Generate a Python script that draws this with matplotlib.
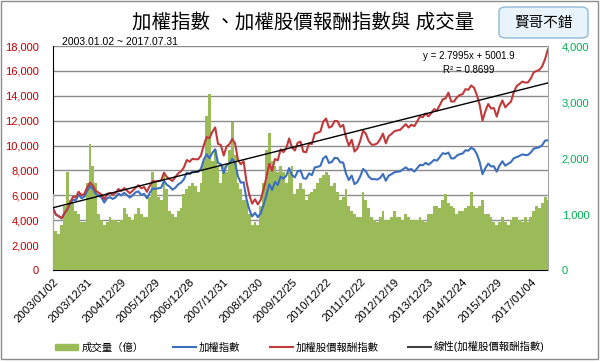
import numpy as np
import matplotlib
matplotlib.use('Agg')
import matplotlib.pyplot as plt
from matplotlib.patches import FancyBboxPatch, Patch, Rectangle
from matplotlib.lines import Line2D

plt.rcParams['font.family'] = ['Liberation Sans', 'Noto Sans CJK TC', 'DejaVu Sans']

# month-end readings, 2003/01 .. 2017/07
taiex = [
    4950, 4450, 4320, 4150, 4550, 4870, 5320, 5650, 5610, 6050, 5770, 5890,
    6380, 6750, 6520, 6120, 5980, 5840, 5420, 5770, 5850, 5710, 5840, 6140,
    5990, 6210, 6010, 5820, 6010, 6240, 6310, 6030, 6120, 5760, 6200, 6550,
    6530, 6560, 6610, 7170, 6850, 6700, 6450, 6610, 6880, 7020, 7290, 7820,
    7700, 7900, 7880, 7880, 8140, 8880, 9290, 8980, 9410, 9710, 8590, 8510,
    7800, 8410, 8570, 8920, 8620, 7520, 7020, 7050, 5720, 4870, 4300, 4590,
    4250, 4560, 5210, 5990, 6890, 6430, 7080, 6830, 7510, 7340, 7580, 8190,
    7640, 7440, 7920, 8000, 7370, 7330, 7760, 7620, 8240, 8290, 8370, 8970,
    9150, 8600, 8680, 9010, 8990, 8650, 8640, 7740, 7230, 7590, 6900, 7070,
    7520, 8120, 7930, 7500, 7300, 7300, 7270, 7400, 7720, 7170, 7580, 7700,
    7850, 7900, 7920, 8090, 8250, 8060, 8110, 7910, 8170, 8450, 8410, 8610,
    8460, 8640, 8850, 8790, 9080, 9390, 9320, 9440, 8970, 8970, 9190, 9310,
    9360, 9620, 9590, 9820, 9700, 9320, 8670, 7700, 8180, 8550, 8320, 8340,
    7900, 8410, 8740, 8380, 8540, 8670, 8980, 9070, 9170, 9290, 9240, 9250,
    9450, 9750, 9810, 9870, 10040, 10400, 10430,
]
total_return = [
    4950, 4450, 4320, 4150, 4550, 4870, 5430, 5880, 5830, 6290, 6000, 6130,
    6640, 7020, 6780, 6360, 6220, 6070, 5690, 6110, 6200, 6050, 6190, 6510,
    6350, 6580, 6370, 6170, 6370, 6610, 6810, 6570, 6670, 6280, 6760, 7140,
    7120, 7150, 7200, 7820, 7470, 7300, 7160, 7470, 7770, 7930, 8240, 8840,
    8700, 8930, 8900, 8900, 9200, 10030, 10680, 10600, 11100, 11460, 10140, 10040,
    9200, 9920, 10110, 10530, 10170, 8870, 8490, 8740, 7090, 6040, 5330, 5690,
    5270, 5650, 6460, 7430, 8540, 7970, 8920, 8810, 9690, 9470, 9780, 10570,
    9860, 9600, 10220, 10320, 9510, 9460, 10170, 10130, 10960, 11030, 11130, 11930,
    12170, 11440, 11540, 11980, 11960, 11500, 11660, 10680, 9980, 10470, 9520, 9760,
    10380, 11210, 10940, 10350, 10070, 10070, 10180, 10510, 10960, 10180, 10760, 10930,
    11150, 11220, 11250, 11490, 11720, 11450, 11680, 11550, 11930, 12340, 12280, 12570,
    12350, 12610, 12920, 12830, 13260, 13710, 13790, 14250, 13540, 13540, 13880, 14060,
    14130, 14530, 14480, 14830, 14650, 14070, 13270, 12010, 12760, 13340, 12980, 13010,
    12320, 13120, 13630, 13070, 13320, 13530, 14280, 14780, 14950, 15140, 15060, 15080,
    15400, 15890, 15990, 16090, 16370, 16950, 17730,
]
volume = [
    1350, 700, 650, 800, 1150, 1750, 1250, 1200, 1050, 1000, 850, 850,
    1550, 2250, 1850, 1550, 1000, 900, 800, 850, 950, 900, 900, 850,
    900, 1100, 1000, 950, 900, 1000, 1100, 1000, 950, 950, 1300, 1750,
    1550, 1300, 1250, 1750, 1450, 1050, 1000, 950, 1050, 1100, 1350, 1450,
    1500, 1550, 1500, 1400, 1550, 1950, 2750, 3150, 1950, 2150, 1850, 1550,
    1850, 1750, 2150, 2650, 2050, 1550, 1450, 1250, 1250, 1000, 800, 850,
    800, 1150, 1550, 2150, 2450, 1950, 1850, 1750, 1850, 1750, 1550, 1750,
    1850, 1350, 1450, 1550, 1450, 1250, 1350, 1400, 1450, 1550, 1650, 1700,
    1750, 1700, 1500, 1550, 1400, 1250, 1300, 1450, 1150, 1050, 1000, 950,
    950, 1400, 1250, 1100, 950, 900, 850, 950, 1050, 900, 900, 950,
    1050, 950, 950, 900, 1000, 950, 900, 900, 900, 950, 900, 850,
    1000, 1000, 1150, 1150, 1100, 1250, 1350, 1200, 1150, 1100, 1000, 1050,
    1050, 1100, 1150, 1400, 1150, 1100, 1150, 1250, 1000, 1000, 950, 850,
    800, 850, 950, 850, 800, 900, 950, 950, 900, 850, 950, 850,
    950, 1050, 1150, 1100, 1200, 1300, 1250,
]
tick_labels = ['2003/01/02', '2003/12/31', '2004/12/29', '2005/12/29', '2006/12/28',
               '2007/12/31', '2008/12/30', '2009/12/25', '2010/12/22', '2011/12/22',
               '2012/12/19', '2013/12/23', '2014/12/24', '2015/12/29', '2017/01/04']
n_days = 3583          # trading days in the series
trend_slope, trend_icpt = 2.7995, 5001.9

x = np.linspace(0, n_days - 1, len(taiex))
tick_pos = np.arange(len(tick_labels)) * 247

fig = plt.figure(figsize=(6, 3.62), dpi=100)
rect = [53 / 600, 1 - 270 / 362, 495 / 600, 224 / 362]

ax = fig.add_axes(rect)
ax.set_ylim(0, 18000)
ax.set_xlim(-0.5, n_days - 0.5)
ax.set_yticks(np.arange(0, 18001, 2000))
ax.yaxis.set_major_formatter(matplotlib.ticker.StrMethodFormatter('{x:,.0f}'))
ax.tick_params(axis='y', length=0, labelsize=8, labelcolor='#c00000', pad=10)
ax.grid(axis='y', color='#8c8c8c', lw=1)
ax.set_axisbelow(True)
ax.set_xticks(tick_pos)
ax.set_xticklabels(tick_labels, rotation=45, ha='right', va='top',
                   rotation_mode='anchor', fontsize=8.2)
ax.tick_params(axis='x', length=0, pad=5)
for s in ['top', 'right']:
    ax.spines[s].set_visible(False)
ax.spines['left'].set_color('black')
ax.spines['bottom'].set_color('black')

axv = ax.twinx()
axv.set_ylim(0, 4000)
axv.set_yticks(np.arange(0, 4001, 1000))
axv.yaxis.set_major_formatter(matplotlib.ticker.StrMethodFormatter('{x:,.0f}'))
axv.tick_params(axis='y', length=0, labelsize=8, labelcolor='#00b050', pad=10)
axv.bar(x, volume, width=x[1] - x[0], color='#9bbb59', linewidth=0)
for s in ['top', 'left', 'bottom']:
    axv.spines[s].set_visible(False)
axv.spines['right'].set_color('#a6a6a6')

axl = ax.twinx()
axl.set_ylim(0, 18000)
axl.set_xlim(-0.5, n_days - 0.5)
axl.axis('off')
axl.plot(x, taiex, color='#3c6fbe', lw=1.5)
axl.plot(x, total_return, color='#c0393b', lw=1.5)
tx = np.array([1, n_days])
axl.plot(tx - 1, trend_slope * tx + trend_icpt, color='black', lw=1)

axl.text(0.84, 0.955, 'y = 2.7995x + 5001.9', transform=axl.transAxes,
         ha='center', va='center', fontsize=7)
axl.text(0.84, 0.895, 'R² = 0.8699', transform=axl.transAxes,
         ha='center', va='center', fontsize=7)

fig.text(303 / 600, 1 - 22 / 362, '加權指數 、加權股價報酬指數與 成交量',
         ha='center', va='center', fontsize=14)
fig.text(62 / 600, 1 - 42 / 362, '2003.01.02 ~ 2017.07.31',
         ha='left', va='center', fontsize=7.5)

box = FancyBboxPatch((499 / 600, 1 - 38 / 362), 89 / 600, 31 / 362,
                     boxstyle='round,pad=0,rounding_size=0.012',
                     transform=fig.transFigure, fc='#e8f3fb', ec='#8fbad6', lw=1)
fig.patches.append(box)
fig.text(543.5 / 600, 1 - 22.5 / 362, '賢哥不錯', ha='center', va='center',
         fontsize=10.5, family=['Noto Sans CJK TC'])

fig.patches.append(Rectangle((1 / 600, 1 - 359 / 362), 597 / 600, 358 / 362,
                             transform=fig.transFigure, fill=False,
                             ec='#8c8c8c', lw=1))

handles = [Patch(color='#9bbb59'),
           Line2D([], [], color='#3c6fbe', lw=1.5),
           Line2D([], [], color='#c0393b', lw=1.5),
           Line2D([], [], color='#404040', lw=1.5)]
labels = ['成交量（億）', '加權指數', '加權股價報酬指數', '線性(加權股價報酬指數)']
fig.legend(handles, labels, loc='center', bbox_to_anchor=(300 / 600, 1 - 347 / 362),
           ncol=4, frameon=False, fontsize=7.5, handlelength=2.2,
           handleheight=0.6, columnspacing=2.8, handletextpad=0.3)

fig.savefig('out.png', dpi=100)
